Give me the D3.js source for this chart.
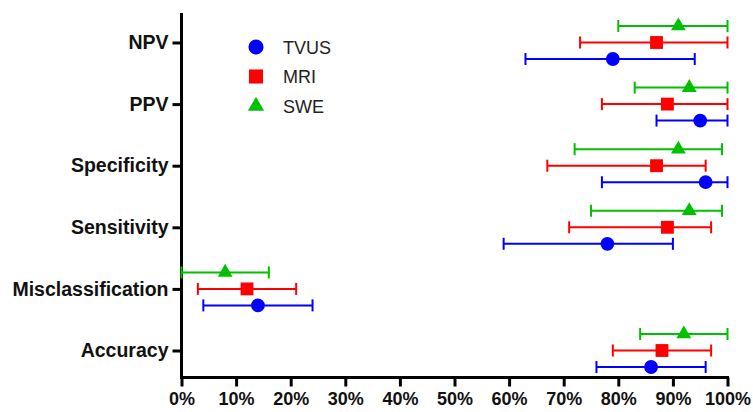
<!DOCTYPE html>
<html>
<head>
<meta charset="utf-8">
<script src="https://cdn.jsdelivr.net/npm/d3@7"></script>
<style>
  body { margin: 0; background: #fff; }
  svg { display: block; font-family: "Liberation Sans", Arial, sans-serif; }
</style>
</head>
<body>
<div id="chart"></div>
<script>
// values (percent)
const categories = ["NPV", "PPV", "Specificity", "Sensitivity", "Misclassification", "Accuracy"];
const seriesNames = ["TVUS", "MRI", "SWE"];

const tvusMean = [79, 95, 96, 78, 14, 86];
const tvusLow  = [63, 87, 77, 59, 4, 76];
const tvusHigh = [94, 100, 100, 90, 24, 96];

const mriMean = [87, 89, 87, 89, 12, 88];
const mriLow  = [73, 77, 67, 71, 3, 79];
const mriHigh = [100, 100, 96, 97, 21, 97];

const sweMean = [91, 93, 91, 93, 8, 92];
const sweLow  = [80, 83, 72, 75, 0, 84];
const sweHigh = [100, 100, 99, 99, 16, 100];

const xTicks = [0, 10, 20, 30, 40, 50, 60, 70, 80, 90, 100];

const width = 753, height = 412;
const plotLeft = 181.5, plotRight = 727.5, plotTop = 13, plotBottom = 377.5;

const colors = { TVUS: "#0000ff", MRI: "#ff0000", SWE: "#00c000" };
const shapes = { TVUS: d3.symbolCircle, MRI: d3.symbolSquare, SWE: d3.symbolTriangle };
const sizes = { TVUS: 150, MRI: 165, SWE: 95 };

const series = [
    { name: "TVUS", mean: tvusMean, low: tvusLow, high: tvusHigh },
    { name: "MRI", mean: mriMean, low: mriLow, high: mriHigh },
    { name: "SWE", mean: sweMean, low: sweLow, high: sweHigh }
];

const svg = d3.select("#chart").append("svg")
    .attr("width", width)
    .attr("height", height);

const x = d3.scaleLinear().domain([0, 100]).range([plotLeft, plotRight]);
const y = d3.scalePoint().domain(categories).range([42.5, 350.5]);
const offset = d3.scalePoint().domain(["SWE", "MRI", "TVUS"]).range([-16.5, 16.5]);

// axes
const xAxis = svg.append("g")
    .attr("transform", "translate(0," + plotBottom + ")")
    .call(d3.axisBottom(x).tickValues(xTicks).tickFormat(d => d + "%").tickSize(9).tickSizeOuter(0).tickPadding(6));
xAxis.select(".domain").remove();
xAxis.selectAll("line").attr("stroke", "#000").attr("stroke-width", 3);
xAxis.selectAll("text").attr("fill", "#111").style("font-size", "18px").style("font-weight", "bold");

const yAxis = svg.append("g")
    .attr("transform", "translate(" + plotLeft + ",0)")
    .call(d3.axisLeft(y).tickSize(9).tickPadding(4));
yAxis.select(".domain").remove();
yAxis.selectAll("line").attr("stroke", "#000").attr("stroke-width", 3);
yAxis.selectAll("text").attr("fill", "#111").style("font-size", "19.5px").style("font-weight", "bold");

svg.append("line")
    .attr("x1", plotLeft).attr("x2", plotLeft)
    .attr("y1", plotTop).attr("y2", plotBottom + 1.5)
    .attr("stroke", "#000").attr("stroke-width", 3);
svg.append("line")
    .attr("x1", plotLeft - 1.5).attr("x2", plotRight + 1.5)
    .attr("y1", plotBottom).attr("y2", plotBottom)
    .attr("stroke", "#000").attr("stroke-width", 3);

// error bars + markers
const capH = 6;
series.forEach(function(s) {
    const g = svg.append("g").attr("class", "series-" + s.name);
    const rows = categories.map((c, i) => ({ cat: c, mean: s.mean[i], low: s.low[i], high: s.high[i] }));
    const cy = d => y(d.cat) + offset(s.name);
    const col = colors[s.name];

    g.selectAll(".bar").data(rows).enter().append("line")
        .attr("x1", d => x(d.low)).attr("x2", d => x(d.high))
        .attr("y1", cy).attr("y2", cy)
        .attr("stroke", col).attr("stroke-width", 2);
    g.selectAll(".capl").data(rows).enter().append("line")
        .attr("x1", d => x(d.low)).attr("x2", d => x(d.low))
        .attr("y1", d => cy(d) - capH).attr("y2", d => cy(d) + capH)
        .attr("stroke", col).attr("stroke-width", 2);
    g.selectAll(".caph").data(rows).enter().append("line")
        .attr("x1", d => x(d.high)).attr("x2", d => x(d.high))
        .attr("y1", d => cy(d) - capH).attr("y2", d => cy(d) + capH)
        .attr("stroke", col).attr("stroke-width", 2);
    g.selectAll(".mark").data(rows).enter().append("path")
        .attr("d", d3.symbol().type(shapes[s.name]).size(sizes[s.name]))
        .attr("transform", d => "translate(" + x(d.mean) + "," + cy(d) + ")")
        .attr("fill", col);
});

// legend
const legend = svg.append("g").attr("transform", "translate(256,47)");
seriesNames.forEach(function(name, i) {
    const item = legend.append("g").attr("transform", "translate(0," + (i * 29.5) + ")");
    item.append("path")
        .attr("d", d3.symbol().type(shapes[name]).size(sizes[name] * 1.2))
        .attr("fill", colors[name]);
    item.append("text")
        .attr("x", 27).attr("y", 6.5)
        .style("font-size", "18px")
        .attr("fill", "#222")
        .text(name);
});
</script>
</body>
</html>
